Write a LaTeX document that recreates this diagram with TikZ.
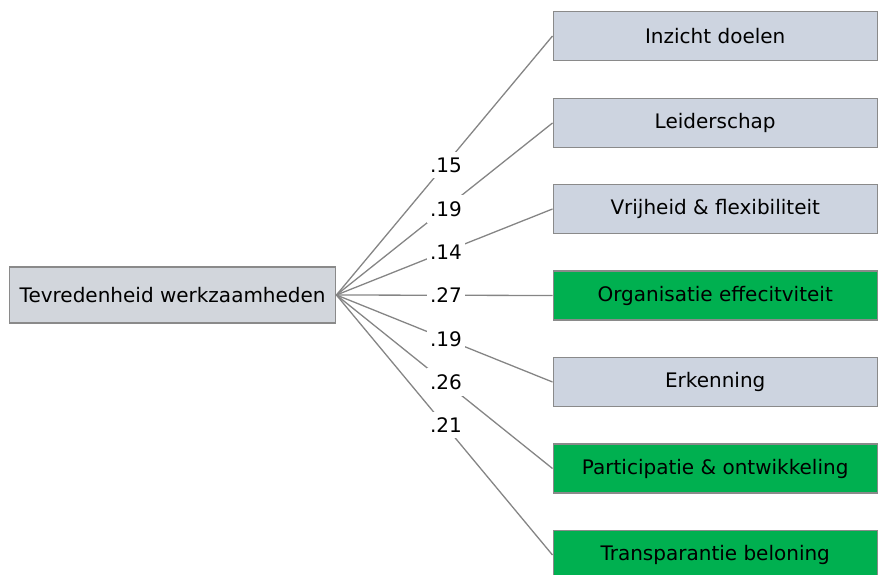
\documentclass[tikz,border=0pt]{standalone}
\usepackage{fontspec}
\setmainfont{DejaVu Sans}
\begin{document}
\begin{tikzpicture}[x=1pt,y=-1pt,
  box/.style={draw=boxline, line width=1.4pt, minimum width=324pt, minimum height=49pt,
    inner sep=0pt, font=\fontsize{20}{22}\selectfont, text=black},
  grey/.style={box, fill=greyfill},
  green/.style={box, fill=greenfill},
  link/.style={draw=linkgrey, line width=1.3pt},
  weight/.style={fill=white, font=\fontsize{20}{22}\selectfont, inner xsep=3pt, inner ysep=6pt}]
\definecolor{boxline}{HTML}{8A8A8A}
\definecolor{greyfill}{HTML}{CDD4E0}
\definecolor{srcfill}{HTML}{D2D6DC}
\definecolor{greenfill}{HTML}{00B050}
\definecolor{linkgrey}{HTML}{858585}
\clip (0,0) rectangle (878,575);
\useasboundingbox (0,0) rectangle (878,575);

% source construct
\node[box, fill=srcfill, minimum width=326pt, minimum height=56pt, anchor=west] (src) at (9,295) {Tevredenheid werkzaamheden};

% outcome constructs
\node[grey,  anchor=west] (d1) at (552.5,36)  {Inzicht doelen};
\node[grey,  anchor=west] (d2) at (552.5,123) {Leiderschap};
\node[grey,  anchor=west] (d3) at (552.5,209) {Vrijheid \& flexibiliteit};
\node[green, anchor=west] (d4) at (552.5,295.5) {Organisatie effecitviteit};
\node[grey,  anchor=west] (d5) at (552.5,382) {Erkenning};
\node[green, anchor=west] (d6) at (552.5,468.5) {Participatie \& ontwikkeling};
\node[green, anchor=west] (d7) at (552.5,555) {Transparantie beloning};

% paths
\foreach \i in {1,...,7}
  \draw[link] (src.east) -- (d\i.west);

% path weights, stacked in one column over the paths
\node[weight] (w1) at (446,165) {.15};
\node[weight] (w2) at (446,209) {.19};
\node[weight] (w3) at (446,252) {.14};
\node[weight] (w4) at (446,295) {.27};
\node[weight] (w5) at (446,339) {.19};
\node[weight] (w6) at (446,382) {.26};
\node[weight] (w7) at (446,425) {.21};
\end{tikzpicture}
\end{document}
